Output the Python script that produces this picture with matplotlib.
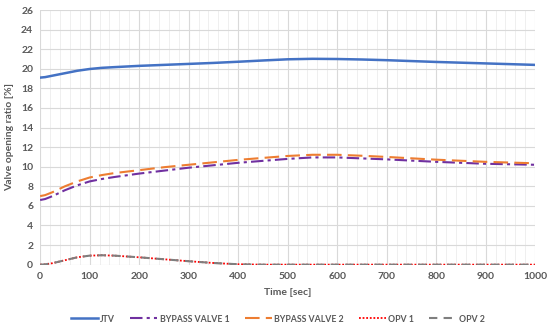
import numpy as np
import matplotlib.pyplot as plt
from matplotlib.ticker import MultipleLocator

plt.rcParams['font.family'] = ['Lato', 'DejaVu Sans']

time = [0, 10, 25, 50, 75, 100, 125, 150, 200, 250, 300, 350, 400, 450, 500, 550, 600, 650, 700, 800, 900, 1000]
jtv = [19.1, 19.15, 19.3, 19.55, 19.8, 19.98, 20.1, 20.17, 20.3, 20.4, 20.5, 20.6, 20.72, 20.85, 20.97, 21.02, 21.0, 20.95, 20.88, 20.7, 20.55, 20.4]
bypass1 = [6.6, 6.7, 7.0, 7.6, 8.1, 8.5, 8.75, 8.95, 9.3, 9.6, 9.9, 10.15, 10.4, 10.6, 10.8, 10.95, 10.95, 10.85, 10.75, 10.5, 10.3, 10.2]
bypass2 = [7.0, 7.1, 7.4, 8.0, 8.5, 8.9, 9.15, 9.35, 9.65, 9.95, 10.2, 10.45, 10.7, 10.9, 11.1, 11.22, 11.22, 11.12, 11.0, 10.72, 10.5, 10.35]
opv1 = [0.0, 0.03, 0.15, 0.45, 0.75, 0.92, 0.96, 0.92, 0.75, 0.55, 0.35, 0.17, 0.04, 0.0, 0.0, 0.0, 0.0, 0.0, 0.0, 0.0, 0.0, 0.0]
opv2 = [0.0, 0.03, 0.15, 0.45, 0.75, 0.92, 0.96, 0.92, 0.75, 0.55, 0.35, 0.17, 0.04, 0.0, 0.0, 0.0, 0.0, 0.0, 0.0, 0.0, 0.0, 0.0]

txt = '#595959'

fig, ax = plt.subplots(figsize=(5.5, 3.35), dpi=100)
fig.subplots_adjust(left=0.073, right=0.973, top=0.97, bottom=0.21)

ax.plot(time, jtv, color='#4472C4', lw=1.8, label='JTV')
ax.plot(time, bypass1, color='#7030A0', lw=1.5, dashes=(6, 2, 1.5, 2), label='BYPASS VALVE 1')
ax.plot(time, bypass2, color='#ED7D31', lw=1.5, dashes=(7, 3), label='BYPASS VALVE 2')
ax.plot(time, opv1, color='#FF0000', lw=1.3, ls=(0, (1, 1)), label='OPV 1')
ax.plot(time, opv2, color='#7F7F7F', lw=1.5, dashes=(4, 3), label='OPV 2')

ax.set_xlim(0, 1000)
ax.set_ylim(0, 26)
ax.xaxis.set_major_locator(MultipleLocator(100))
ax.xaxis.set_minor_locator(MultipleLocator(20))
ax.yaxis.set_major_locator(MultipleLocator(2))
ax.grid(which='major', color='#D9D9D9', lw=0.8)
ax.grid(which='minor', axis='x', color='#EDEDED', lw=0.6)
ax.set_axisbelow(True)
for s in ax.spines.values():
    s.set_visible(False)
ax.tick_params(which='both', length=0, labelsize=7.5, labelcolor=txt, pad=5)
for lab in ax.get_xticklabels() + ax.get_yticklabels():
    lab.set_fontweight('bold')

ax.set_xlabel('Time [sec]', fontsize=7.5, color=txt, fontweight='bold', labelpad=5)
ax.set_ylabel('Valve opening ratio [%]', fontsize=7.5, color=txt, fontweight='bold', labelpad=5)

leg = ax.legend(loc='upper center', bbox_to_anchor=(0.48, -0.165), ncol=5, frameon=False,
                fontsize=6.3, handlelength=3.1, columnspacing=1.7, handletextpad=0.3)
for t in leg.get_texts():
    t.set_color(txt)
    t.set_fontweight('bold')

fig.savefig('out.png', dpi=100)
